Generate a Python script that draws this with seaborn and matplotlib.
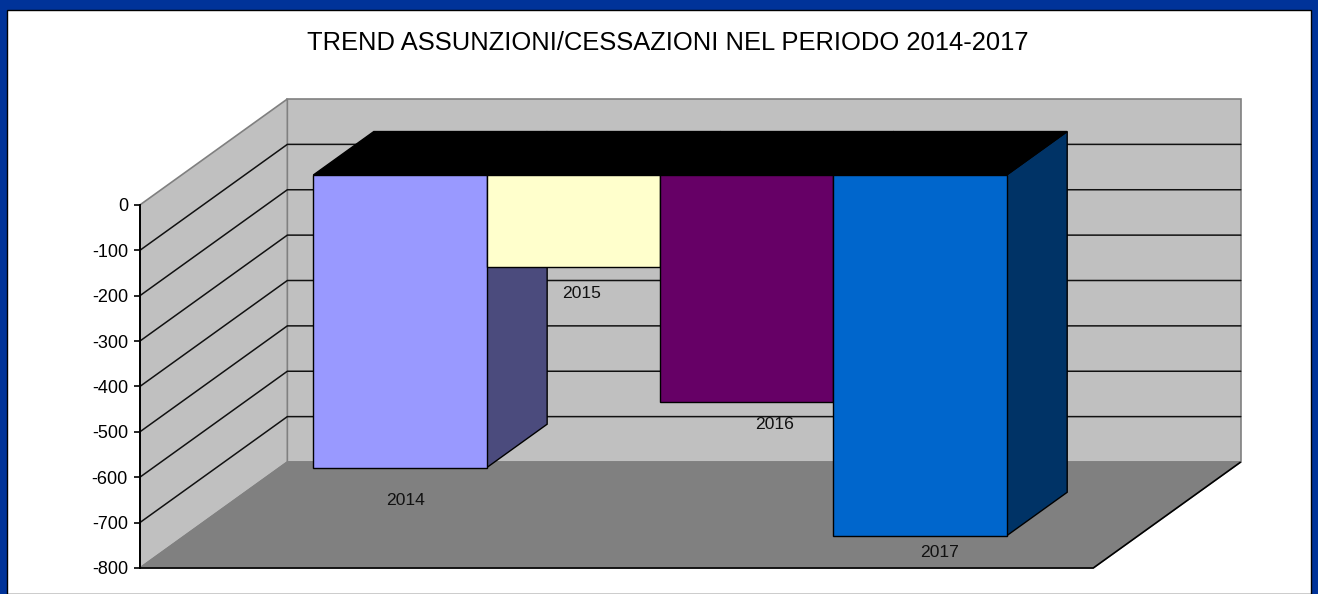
import matplotlib
matplotlib.use("Agg")
import matplotlib.pyplot as plt
import seaborn as sns
from matplotlib.patches import Polygon, Rectangle

# ---------------- data ----------------
years = ["2014", "2015", "2016", "2017"]
values = [-645, -202, -500, -795]
y_ticks = [0, -100, -200, -300, -400, -500, -600, -700, -800]
title = "TREND ASSUNZIONI/CESSAZIONI NEL PERIODO 2014-2017"

# ---------------- style ----------------
front_colors = ["#9999FF", "#FFFFCC", "#660066", "#0066CC"]
side_colors = ["#4B4B7D", "#80806A", "#330033", "#003366"]
label_nudge_x = [0.03, 0.045, 0.16, 0.115]
label_nudge_v = [-73, -60, -49, -36]

sns.set_theme(style="white")
plt.rcParams['font.family'] = ['Liberation Sans', 'DejaVu Sans']

FW, FH = 1318, 594
fig = plt.figure(figsize=(FW / 100, FH / 100), dpi=100)
fig.patch.set_facecolor("#003399")
fig.patches.append(Rectangle((7 / FW, 0), (FW - 14) / FW, (FH - 10) / FH,
                             transform=fig.transFigure, facecolor="white",
                             edgecolor="black", linewidth=1.0, zorder=0))

# projection geometry (bar plane = data plane)
S = 0.45375      # px per value unit
W = 173.35       # px per category
X0, Y0 = 400.0, 175.0
DX = 147.5 / W   # full depth, x units
DV = 106.0 / S   # full depth, value units
f = 0.283        # depth of bar front face within the box
b = 0.41         # bar depth (fraction of full depth)
XL, XR = -1.26, 4.24
VMIN, VMAX = min(y_ticks), max(y_ticks)

ax = fig.add_axes([0, 0, 1, 1])
ax.set_zorder(1)


def P(x, v, d):
    return (x + d * DX, v + d * DV)


dF, dB = -f, 1 - f
wall_c, floor_c, edge_g = "#C0C0C0", "#808080", "#808080"

# back wall
ax.add_patch(Polygon([P(XL, VMIN, dB), P(XR, VMIN, dB), P(XR, VMAX, dB), P(XL, VMAX, dB)],
                     closed=True, facecolor=wall_c, edgecolor=edge_g, lw=1.2, zorder=1))
# left wall
ax.add_patch(Polygon([P(XL, VMAX, dF), P(XL, VMAX, dB), P(XL, VMIN, dB), P(XL, VMIN, dF)],
                     closed=True, facecolor=wall_c, edgecolor=edge_g, lw=1.2, zorder=1))
# floor
ax.add_patch(Polygon([P(XL, VMIN, dF), P(XR, VMIN, dF), P(XR, VMIN, dB), P(XL, VMIN, dB)],
                     closed=True, facecolor=floor_c, edgecolor=edge_g, lw=1.0, zorder=1))
fx = [P(XL, VMIN, dF)[0], P(XR, VMIN, dF)[0], P(XR, VMIN, dB)[0]]
fy = [P(XL, VMIN, dF)[1], P(XR, VMIN, dF)[1], P(XR, VMIN, dB)[1]]
ax.plot(fx, fy, color="black", lw=1.2, zorder=1.6, solid_capstyle="butt")

# gridlines
for v in y_ticks:
    if v in (VMIN, VMAX):
        continue
    a, c, e = P(XL, v, dF), P(XL, v, dB), P(XR, v, dB)
    ax.plot([a[0], c[0], e[0]], [a[1], c[1], e[1]], color="#111111", lw=1.1, zorder=1.5)

# bars (front faces) through seaborn
sns.barplot(x=years, y=values, hue=years, palette=front_colors, legend=False,
            width=1.0, edgecolor="black", linewidth=1.0, saturation=1.0,
            ax=ax, zorder=4)

# side and top faces derived from bar data
for i, (val, sc) in enumerate(zip(values, side_colors)):
    xr = i + 0.5
    xl = i - 0.5
    side = [P(xr, 0, 0), P(xr, 0, b), P(xr, val, b), P(xr, val, 0)]
    ax.add_patch(Polygon(side, closed=True, facecolor=sc, edgecolor="black", lw=1.0, zorder=3))
    top = [P(xl, 0, 0), P(xr, 0, 0), P(xr, 0, b), P(xl, 0, b)]
    ax.add_patch(Polygon(top, closed=True, facecolor="black", edgecolor="black", lw=1.0, zorder=3.5))
    ax.text(i + label_nudge_x[i], val + label_nudge_v[i], years[i], ha="center", va="center",
            fontsize=12.6, color="#111111", zorder=6)

ax.set_xlim(-X0 / W, (FW - X0) / W)
ax.set_ylim((Y0 - FH) / S, Y0 / S)
ax.axis("off")
ax.patch.set_alpha(0)

# value axis at the front plane of the box
fig.canvas.draw()
to_fig = ax.transData + fig.transFigure.inverted()
x_ax, y_top = to_fig.transform(P(XL, VMAX, dF))
_, y_bot = to_fig.transform(P(XL, VMIN, dF))
ax2 = fig.add_axes([x_ax, y_bot, 0.001, y_top - y_bot])
ax2.set_zorder(2)
ax2.patch.set_alpha(0)
ax2.set_ylim(VMIN, VMAX)
ax2.set_xticks([])
ax2.set_yticks(y_ticks)
ax2.set_yticklabels([str(t) for t in y_ticks], fontsize=13, color="black")
for s in ("top", "right", "bottom"):
    ax2.spines[s].set_visible(False)
ax2.spines["left"].set_color("black")
ax2.spines["left"].set_linewidth(1.4)
ax2.tick_params(axis="y", direction="out", length=4.3, width=1.2, pad=4.3, color="black", left=True)

fig.text(667.5 / FW, 1 - 42.5 / FH, title, ha="center", va="center",
         fontsize=18.4, color="black")

fig.savefig("out.png", dpi=100, facecolor=fig.get_facecolor())
